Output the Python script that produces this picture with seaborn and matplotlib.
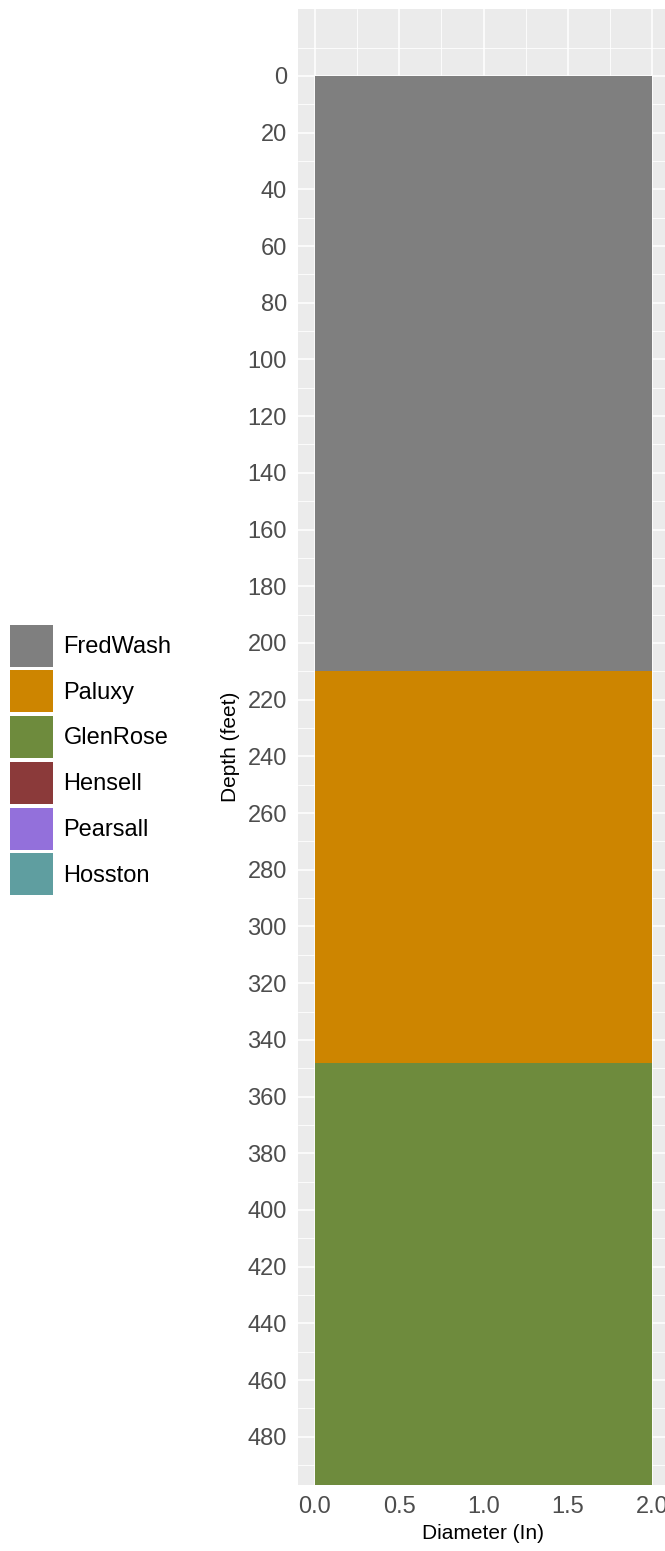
import pandas as pd
import seaborn as sns
import matplotlib.pyplot as plt
import numpy as np
from matplotlib.patches import Patch

# Formation legend (all units) and their colours
formations = ['FredWash', 'Paluxy', 'GlenRose', 'Hensell', 'Pearsall', 'Hosston']
colors = ['#7F7F7F', '#CD8500', '#6E8B3D', '#8B3A3A', '#9370DB', '#5F9EA0']

# Units actually penetrated by the well
top_depth = [0, 210, 348]
bottom_depth = [210, 348, 497]
diameter = [2, 2, 2]

sns.set_style('white')
plt.rcParams['font.family'] = ['Liberation Sans', 'DejaVu Sans']
plt.rcParams['text.color'] = 'black'

df = pd.DataFrame({'formation': formations[:len(top_depth)],
                   'depth': top_depth,
                   'diameter': diameter})
edges = sorted(set(top_depth + bottom_depth))

fig = plt.figure(figsize=(6.65, 15.51), dpi=100)
ax = fig.add_axes([298 / 665, 66 / 1551, 371 / 665, 1476 / 1551])
ax.set_facecolor('#EBEBEB')

# Draw the column with 'sns.histplot()' : one bin per formation, width = diameter
sns.histplot(data=df, y='depth', weights='diameter', hue='formation',
             hue_order=formations[:len(top_depth)],
             palette=colors[:len(top_depth)], bins=edges,
             multiple='layer', alpha=1, linewidth=0, legend=False, ax=ax)

ax.set_ylim(497, -23.6)
ax.set_xlim(-0.1, 2.1)
ax.set_yticks(np.arange(0, 481, 20))
ax.set_yticks([v for v in np.arange(-20, 497, 10) if v % 20 != 0], minor=True)
ax.set_xticks([0, 0.5, 1.0, 1.5, 2.0])
ax.set_xticklabels(['0.0', '0.5', '1.0', '1.5', '2.0'])
ax.set_xticks([0.25, 0.75, 1.25, 1.75], minor=True)

ax.set_axisbelow(True)
ax.grid(which='major', color='white', linewidth=1.1)
ax.grid(which='minor', color='white', linewidth=0.6)
for s in ax.spines.values():
    s.set_visible(False)

ax.tick_params(which='major', length=5, width=1.1, color='#333333',
               labelsize=17, labelcolor='#4D4D4D', pad=3)
ax.tick_params(which='minor', length=0)

ax.set_xlabel('Diameter (In)', fontsize=15, color='black', labelpad=4)
ax.set_ylabel('Depth (feet)', fontsize=15, color='black', labelpad=5)

handles = [Patch(facecolor=c, edgecolor='none') for c in colors]
fig.legend(handles, formations, loc='center left',
           bbox_to_anchor=(10 / 665, 1 - 760 / 1551), frameon=False,
           fontsize=17, handlelength=1.82, handleheight=2.36,
           labelspacing=0.16, handletextpad=0.45, borderpad=0,
           borderaxespad=0, labelcolor='black')

fig.savefig('out.png', dpi=100)
